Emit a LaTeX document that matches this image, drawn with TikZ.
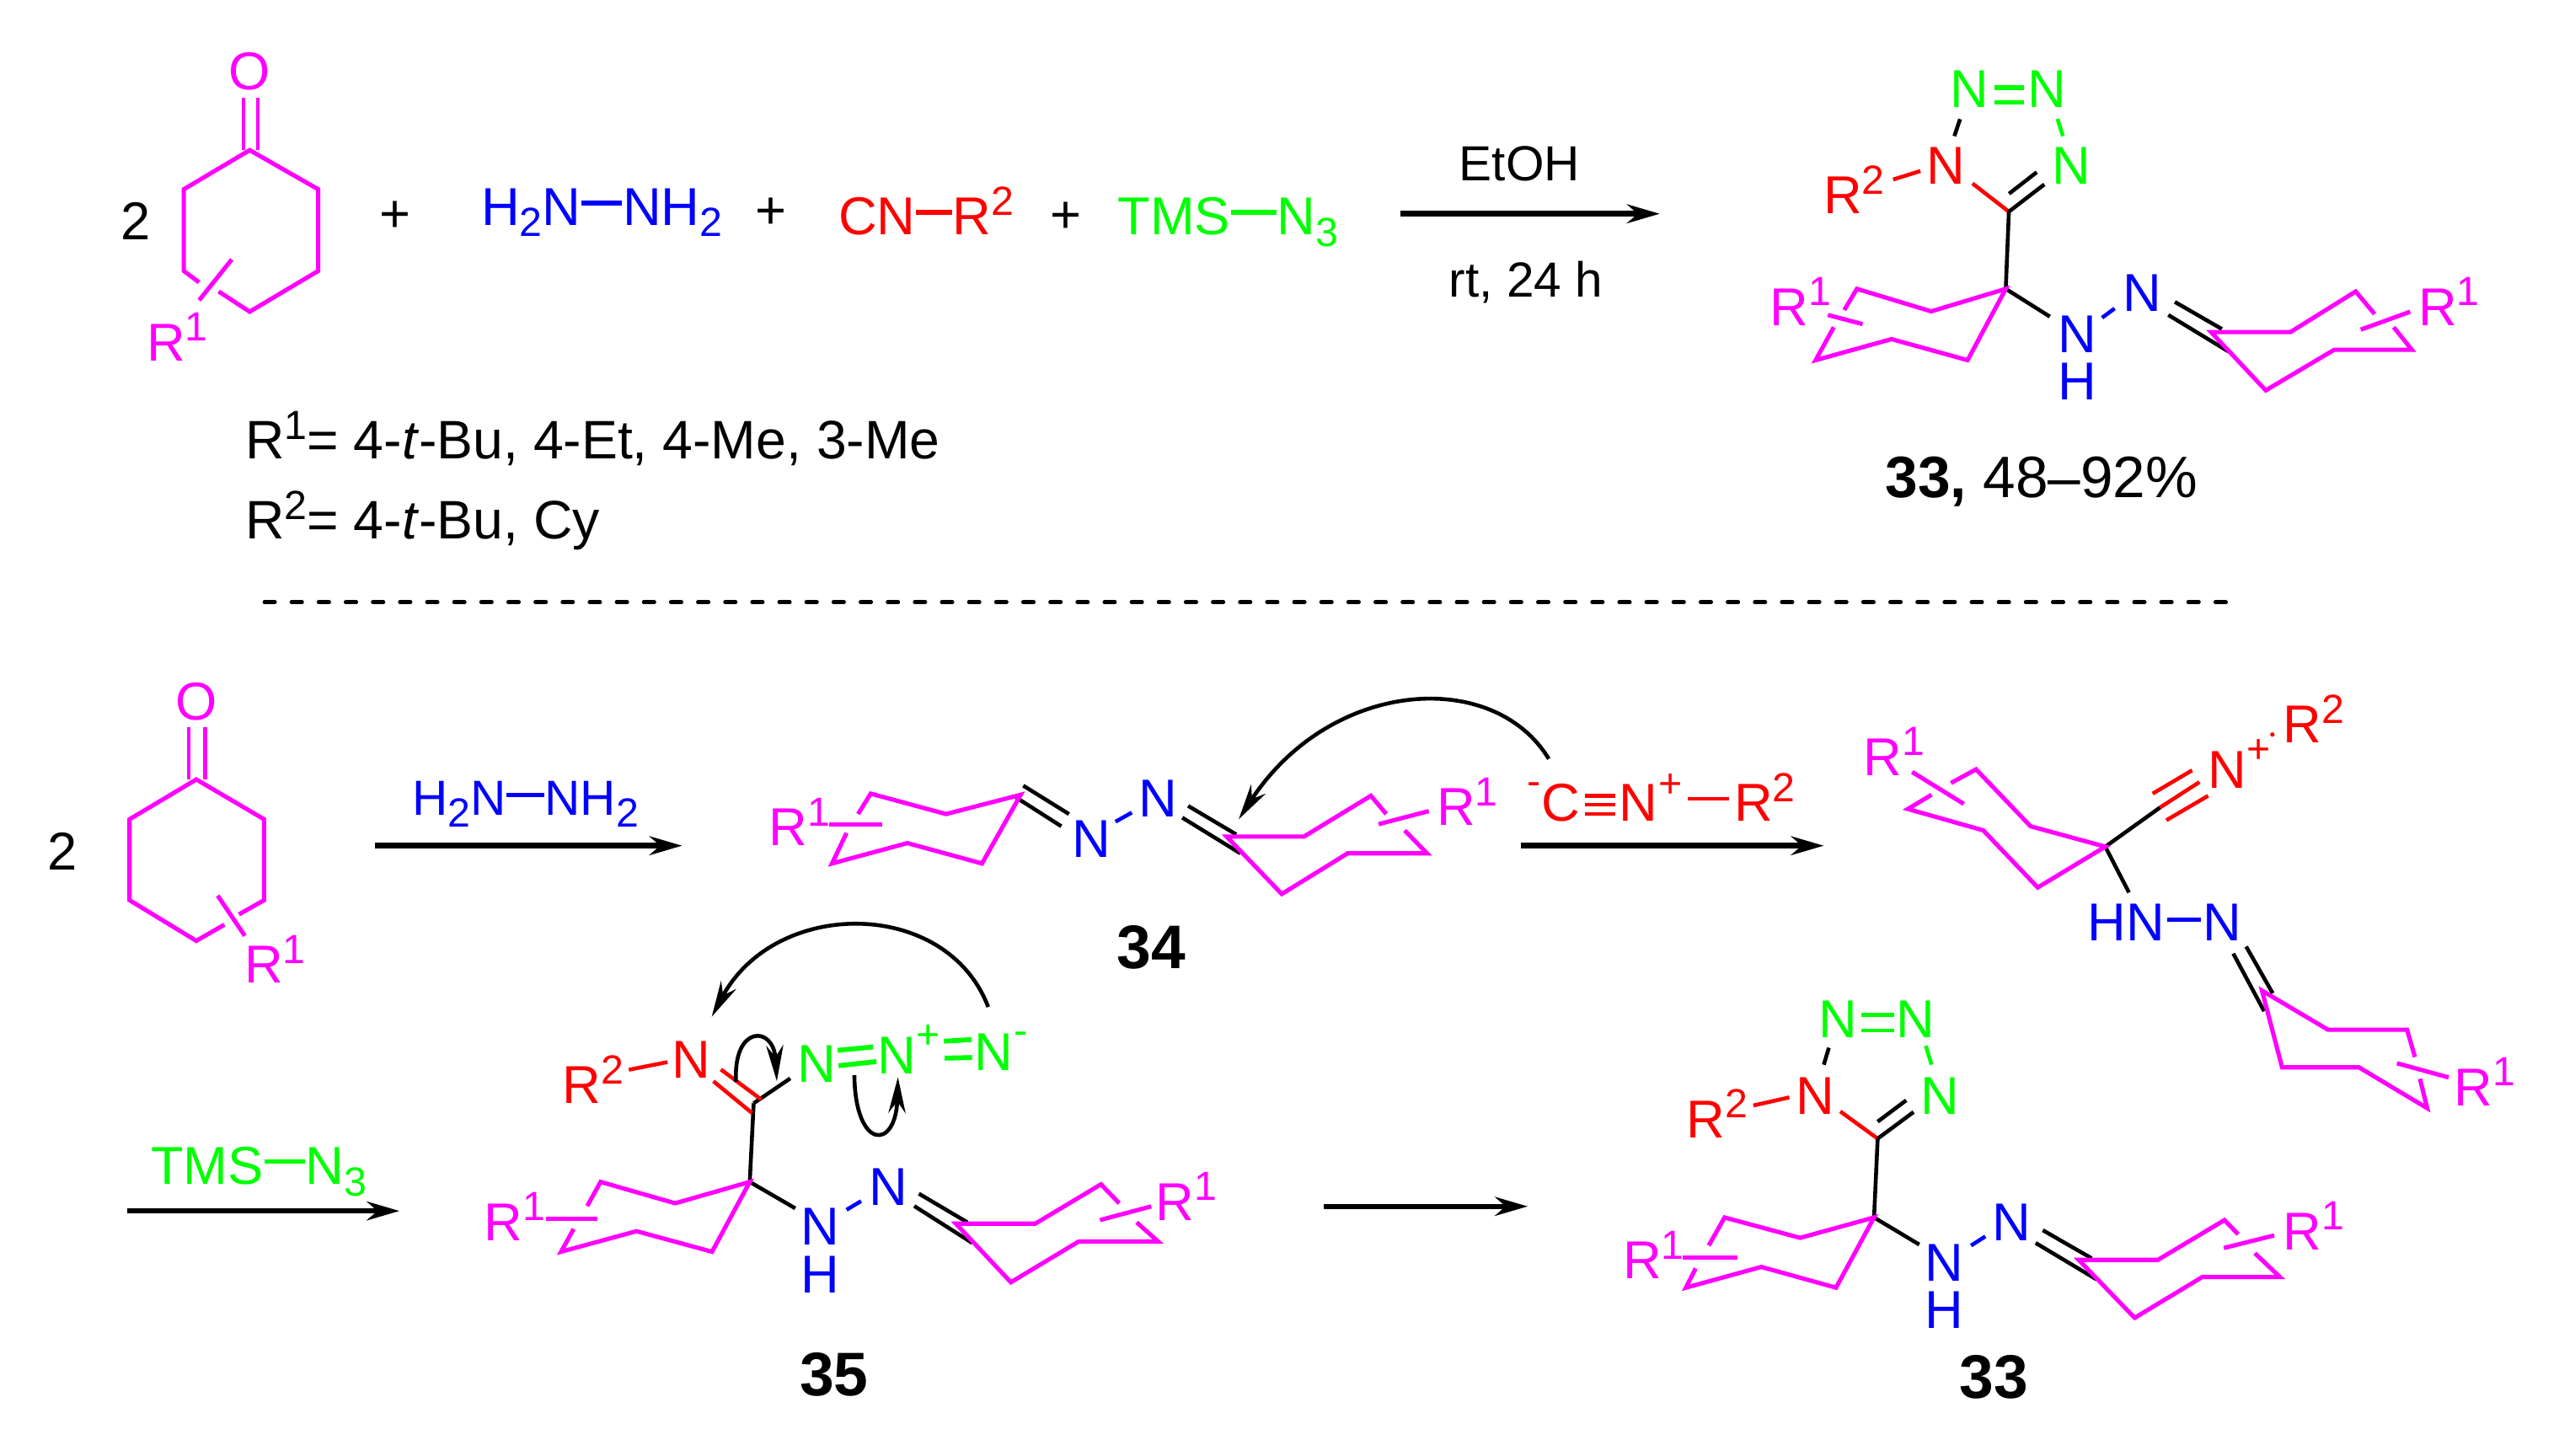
\documentclass[tikz,border=0pt]{standalone}
\usepackage{fontspec}
\setmainfont{Liberation Sans}
\usetikzlibrary{arrows.meta}
\definecolor{ringmag}{RGB}{255,0,255}
\definecolor{azred}{RGB}{255,0,0}
\definecolor{azgreen}{RGB}{0,255,0}
\definecolor{nblue}{RGB}{0,0,255}
\newcommand{\chemsize}{\fontsize{18.6}{23}\selectfont}
\newcommand{\labsize}{\fontsize{21.5}{26}\selectfont\bfseries}
\newcommand{\smallsize}{\fontsize{14.2}{16}\selectfont}
\newcommand{\upno}[1]{\raisebox{6.8pt}{\smallsize #1}}
\newcommand{\dnno}[1]{\raisebox{-4pt}{\smallsize #1}}
\tikzset{
  atom/.style={inner sep=0pt,anchor=base,font=\chemsize},
  lab/.style={inner sep=0pt,anchor=base west,font=\chemsize,xshift=-0.03cm},
  cpd/.style={inner sep=0pt,anchor=base,font=\labsize},
  chg/.style={inner sep=0pt,anchor=center,font=\smallsize},
  ring/.style={line width=1.5pt,ringmag,line join=miter},
  bond/.style={line width=1.35pt},
  fatbond/.style={line width=1.7pt},
  rxn/.style={line width=1.9pt,-{Stealth[length=4mm,width=2.3mm]}},
  curly/.style={line width=1.35pt,-{Stealth[length=4.4mm,width=2.1mm]}}
}
\begin{document}
\begin{tikzpicture}[x=0.02cm,y=-0.02cm]
  \useasboundingbox (0,0) rectangle (1568,892);
  % top line
  \node[atom,ringmag] (ko) at (153,55) {O};
  \node[atom] (k0) at (83,147) {2};
  \node[lab,ringmag] (kr) at (91,221) {R\upno{1}};
  \path
    (153,92) coordinate (k1) (195,116) coordinate (k2) (195,166) coordinate (k3)
    (153,191) coordinate (k4) (112.6,166) coordinate (k5) (112.6,116) coordinate (k6)
    (122,173) coordinate (k7) (134,178.6) coordinate (k8)
    (142,159) coordinate (k9) (122,184) coordinate (k10)
    (149,60) coordinate (k11) (149,92) coordinate (k12) (158,60) coordinate (k13) (158,92) coordinate (k14);
  \draw[ring] (k8) -- (k4) -- (k3) -- (k2) -- (k1) -- (k6) -- (k5) -- (k7);
  \draw[ring] (k9) -- (k10);
  \draw[ringmag,line width=1.2pt] (k11) -- (k12);
  \draw[ringmag,line width=1.2pt] (k13) -- (k14);
  \node[atom] (p1) at (242,142) {+};
  \node[lab,nblue] (h1) at (296,138) {H\dnno{2}N};
  \node[lab,nblue] (h2) at (382.7,138) {NH\dnno{2}};
  \draw[fatbond,nblue] (h1.east |- 0,124.4) -- (h2.west |- 0,124.4);
  \node[atom] (p2) at (472.6,140) {+};
  \node[lab,azred] (c1) at (515,144) {CN};
  \node[lab,azred] (c2) at (585,144) {R\upno{2}};
  \draw[fatbond,azred] (c1.east |- 0,130) -- (c2.west |- 0,130);
  \node[atom] (p3) at (653,143) {+};
  \node[lab,azgreen] (z1) at (686,144) {TMS};
  \node[lab,azgreen] (z2) at (783.5,144) {N\dnno{3}};
  \draw[fatbond,azgreen] (z1.east |- 0,130) -- (z2.west |- 0,130);
  \path (858,131) coordinate (a1) (1017,131) coordinate (a2);
  \draw[rxn] (a1) -- (a2);
  \node[atom,font=\fontsize{17.2}{22}\selectfont] (e1) at (931,110.6) {EtOH};
  \node[atom,font=\fontsize{17.2}{22}\selectfont] (e2) at (935,182) {rt, 24 h};
  \node[lab,font=\fontsize{18.9}{23}\selectfont] (r1) at (151.5,281) {R\upno{1}= 4-\textit{t}-Bu, 4-Et, 4-Me, 3-Me};
  \node[lab,font=\fontsize{18.9}{23}\selectfont] (r2) at (151.5,330) {R\upno{2}= 4-\textit{t}-Bu, Cy};
  % product 33 top
  \node[atom,azgreen] (tn1) at (1207,66) {N};
  \node[atom,azgreen] (tn2) at (1254,66) {N};
  \node[atom,azred] (tn3) at (1192.4,113) {N};
  \node[atom,azgreen] (tn4) at (1269,113) {N};
  \node[lab,azred] (tr2) at (1118.5,131) {R\upno{2}};
  \node[lab,ringmag] (tr1) at (1085.6,199.3) {R\upno{1}};
  \node[lab,ringmag] (tr3) at (1483,199.3) {R\upno{1}};
  \node[atom,nblue] (tn5) at (1272.9,216) {N};
  \node[atom,nblue] (th) at (1272.9,245) {H};
  \node[atom,nblue] (tn6) at (1312.4,191) {N};
  \path
    (1160,110) coordinate (t1) (1176.7,104.8) coordinate (t2)
    (1201,73) coordinate (t3) (1197.5,83.4) coordinate (t4)
    (1260.7,72.8) coordinate (t5) (1264,83.4) coordinate (t6)
    (1230.9,129.7) coordinate (tc) (1208.6,112.4) coordinate (t7)
    (1252.6,113) coordinate (t8) (1231,118.7) coordinate (t9) (1248,105.5) coordinate (t10)
    (1222,53.5) coordinate (t11) (1240,53.5) coordinate (t12)
    (1222,62.7) coordinate (t13) (1240,62.7) coordinate (t14)
    (1229,177) coordinate (tq) (1183.3,190.8) coordinate (t15) (1137.8,177) coordinate (t16)
    (1130,190) coordinate (t17) (1123.6,200.5) coordinate (t18) (1112.5,220.7) coordinate (t19)
    (1159,207.8) coordinate (t20) (1205.6,220.7) coordinate (t21)
    (1120,193) coordinate (t22) (1141.3,198.6) coordinate (t23)
    (1256,194) coordinate (t24) (1288,194.7) coordinate (t25) (1295.7,189) coordinate (t26)
    (1332.6,185) coordinate (t27) (1361.4,201.6) coordinate (t28)
    (1328.6,193) coordinate (t29) (1365.5,215.4) coordinate (t30)
    (1354.8,203.5) coordinate (t31) (1403.4,203.5) coordinate (t32) (1443.4,178.6) coordinate (t33)
    (1455,192.4) coordinate (t34) (1466.7,200.5) coordinate (t35) (1477.8,214.3) coordinate (t36)
    (1430.3,214.3) coordinate (t37) (1388.3,239.2) coordinate (t38)
    (1446.5,202) coordinate (t39) (1476.8,191) coordinate (t40);
  \draw[bond,azred] (t1) -- (t2);
  \draw[bond] (t3) -- (t4);
  \draw[bond,azgreen] (t5) -- (t6);
  \draw[bond,azred] (t7) -- (tc);
  \draw[bond] (tc) -- (t8);
  \draw[bond] (t9) -- (t10);
  \draw[fatbond,azgreen] (t11) -- (t12);
  \draw[fatbond,azgreen] (t13) -- (t14);
  \draw[bond] (tc) -- (tq);
  \draw[bond] (tq) -- (t24);
  \draw[bond,nblue] (t25) -- (t26);
  \draw[bond] (t27) -- (t28);
  \draw[bond] (t29) -- (t30);
  \draw[ring] (t17) -- (t16) -- (t15) -- (tq) -- (t21) -- (t20) -- (t19) -- (t18);
  \draw[ring] (t22) -- (t23);
  \draw[ring] (t34) -- (t33) -- (t32) -- (t31) -- (t38) -- (t37) -- (t36) -- (t35);
  \draw[ring] (t39) -- (t40);
  \node[inner sep=0pt,anchor=base west,font=\fontsize{20.4}{26}\selectfont] (ty) at (1155,305) {\textbf{33,} 48--92\%};
  % divider
  \path (162,369) coordinate (d1) (1374,369) coordinate (d2);
  \draw[line width=1.3pt,line cap=round,dash pattern=on 3.7pt off 5.75pt] (d1) -- (d2);
  % second ketone
  \node[atom,ringmag] (lo) at (120.3,441) {O};
  \node[atom] (l0) at (38,533) {2};
  \node[lab,ringmag] (lr) at (151,602.4) {R\upno{1}};
  \path
    (120.3,477.6) coordinate (l1) (161.8,502) coordinate (l2) (161.8,551.6) coordinate (l3)
    (120.3,576.5) coordinate (l4) (79.4,551.6) coordinate (l5) (79.4,502) coordinate (l6)
    (137.5,566.6) coordinate (l7) (146.4,560.3) coordinate (l8)
    (133.4,548.8) coordinate (l9) (150,573.4) coordinate (l10)
    (115.6,445.8) coordinate (l11) (115.6,477.6) coordinate (l12)
    (125.7,445.8) coordinate (l13) (125.7,477.6) coordinate (l14);
  \draw[ring] (l8) -- (l3) -- (l2) -- (l1) -- (l6) -- (l5) -- (l4) -- (l7);
  \draw[ring] (l9) -- (l10);
  \draw[ringmag,line width=1.2pt] (l11) -- (l12);
  \draw[ringmag,line width=1.2pt] (l13) -- (l14);
  \node[lab,nblue,font=\fontsize{17.2}{21}\selectfont] (g1) at (253.7,499.5) {H\dnno{2}N};
  \node[lab,nblue,font=\fontsize{17.2}{21}\selectfont] (g2) at (335,499.5) {NH\dnno{2}};
  \draw[bond,nblue] (g1.east |- 0,487) -- (g2.west |- 0,487);
  \path (230,518.2) coordinate (a3) (418,518.2) coordinate (a4);
  \draw[rxn] (a3) -- (a4);
  % 34
  \node[lab,ringmag] (mr1) at (472.4,518.2) {R\upno{1}};
  \node[lab,ringmag] (mr2) at (881.5,505.7) {R\upno{1}};
  \node[atom,nblue] (mn1) at (668.6,525.5) {N};
  \node[atom,nblue] (mn2) at (709.5,500.5) {N};
  \node[cpd] (m34) at (705.4,593.7) {34};
  \path
    (625.4,487) coordinate (mq) (579.7,498.8) coordinate (m1) (533.5,486.3) coordinate (m2)
    (525.8,498.8) coordinate (m3) (518.7,510.4) coordinate (m4) (509.8,529.1) coordinate (m5)
    (556,516.6) coordinate (m6) (601.7,529.1) coordinate (m7)
    (508,505) coordinate (m8) (540.6,505) coordinate (m9)
    (627,481.4) coordinate (m10) (655,498.8) coordinate (m11)
    (622.4,488.5) coordinate (m12) (650.3,506.3) coordinate (m13)
    (683.5,503.5) coordinate (m14) (693.5,497.9) coordinate (m15)
    (728,493.8) coordinate (m16) (757.5,511.3) coordinate (m17)
    (724.4,501) coordinate (m18) (760,522.9) coordinate (m19)
    (751.6,512.6) coordinate (m20) (799,512.6) coordinate (m21) (840,487.6) coordinate (m22)
    (849.4,498.8) coordinate (m23) (860.7,508.8) coordinate (m24) (874.4,522.9) coordinate (m25)
    (825.7,522.9) coordinate (m26) (785.4,547.8) coordinate (m27)
    (844.7,505) coordinate (m28) (875.5,497) coordinate (m29);
  \draw[bond] (m10) -- (m11);
  \draw[bond] (m12) -- (m13);
  \draw[bond,nblue] (m14) -- (m15);
  \draw[bond] (m16) -- (m17);
  \draw[bond] (m18) -- (m19);
  \draw[ring] (m3) -- (m2) -- (m1) -- (mq) -- (m7) -- (m6) -- (m5) -- (m4);
  \draw[ring] (m8) -- (m9);
  \draw[ring] (m23) -- (m22) -- (m21) -- (m20) -- (m27) -- (m26) -- (m25) -- (m24);
  \draw[ring] (m28) -- (m29);
  % isocyanide
  \node[chg,azred] (im) at (940,483.3) {-};
  \node[atom,azred] (ic) at (956.4,503) {C};
  \node[atom,azred] (in) at (1003.7,503) {N};
  \node[chg,azred] (ip) at (1023.7,481.4) {+};
  \node[lab,azred] (ir) at (1063.8,503) {R\upno{2}};
  \path
    (971.4,487.6) coordinate (i1) (989.8,487.6) coordinate (i2)
    (971.4,493) coordinate (i3) (989.8,493) coordinate (i4)
    (971.4,498.8) coordinate (i5) (989.8,498.8) coordinate (i6)
    (1033.9,489.5) coordinate (i7) (1059.4,489.5) coordinate (i8)
    (949,465) coordinate (i9) (759,502) coordinate (i10)
    (931.7,518.2) coordinate (a5) (1117.5,518.2) coordinate (a6);
  \draw[bond,azred] (i1) -- (i2);
  \draw[bond,azred] (i3) -- (i4);
  \draw[bond,azred] (i5) -- (i6);
  \draw[bond,azred] (i7) -- (i8);
  \draw[curly] (i9) .. controls (915,409) and (815,416) .. (i10);
  \draw[rxn] (a5) -- (a6);
  % nitrilium
  \node[lab,ringmag] (nr1) at (1143,475) {R\upno{1}};
  \node[atom,azred] (nn) at (1364.8,483) {N};
  \node[chg,azred] (np) at (1383.8,460.4) {+};
  \node[chg,azred] (nd) at (1392.6,451) {$\cdot$};
  \node[lab,azred] (nr2) at (1400,455) {R\upno{2}};
  \node[lab,nblue] (nh) at (1280.3,576.5) {HN};
  \node[atom,nblue] (nm) at (1361.8,576.5) {N};
  \node[lab,ringmag] (nr3) at (1504.8,677.4) {R\upno{1}};
  \path
    (1290,518.8) coordinate (nq) (1244.2,506.3) coordinate (n1) (1210.8,471.4) coordinate (n2)
    (1195.4,479.8) coordinate (n3) (1183.5,487) coordinate (n4) (1169,495.7) coordinate (n5)
    (1215.2,508.8) coordinate (n6) (1248.6,543.8) coordinate (n7)
    (1171.6,473) coordinate (n8) (1203.3,492.6) coordinate (n9)
    (1323.5,494.8) coordinate (n10)
    (1319,486.3) coordinate (n11) (1343.2,472) coordinate (n12)
    (1347.7,479.2) coordinate (n13)
    (1327.4,502.6) coordinate (n14) (1353,487.6) coordinate (n15)
    (1304.5,546.9) coordinate (n16)
    (1327.9,563.4) coordinate (n17) (1348.6,563.4) coordinate (n18)
    (1376.3,580) coordinate (n19) (1392.6,608.7) coordinate (n20)
    (1368.4,584.3) coordinate (n21) (1387.3,619.6) coordinate (n22)
    (1386,607) coordinate (n23) (1426.5,631) coordinate (n24) (1474.9,631) coordinate (n25)
    (1479.7,647.7) coordinate (n26) (1482.8,661) coordinate (n27) (1487.2,679) coordinate (n28)
    (1445.4,654) coordinate (n29) (1398.3,654) coordinate (n30)
    (1468.7,651.5) coordinate (n31) (1500.4,660.2) coordinate (n32);
  \draw[bond] (nq) -- (n10);
  \draw[bond,azred] (n11) -- (n12);
  \draw[bond,azred] (n10) -- (n13);
  \draw[bond,azred] (n14) -- (n15);
  \draw[bond] (nq) -- (n16);
  \draw[bond,nblue] (n17) -- (n18);
  \draw[bond] (n19) -- (n20);
  \draw[bond] (n21) -- (n22);
  \draw[ring] (n3) -- (n2) -- (n1) -- (nq) -- (n7) -- (n6) -- (n5) -- (n4);
  \draw[ring] (n8) -- (n9);
  \draw[ring] (n26) -- (n25) -- (n24) -- (n23) -- (n30) -- (n29) -- (n28) -- (n27);
  \draw[ring] (n31) -- (n32);
  % 35
  \node[lab,azgreen] (w1) at (93.7,725.7) {TMS};
  \node[lab,azgreen] (w2) at (188.5,725.7) {N\dnno{3}};
  \draw[bond,azgreen] (w1.east |- 0,711.7) -- (w2.west |- 0,711.7);
  \path (78.2,742) coordinate (a7) (244.8,742) coordinate (a8);
  \draw[rxn] (a7) -- (a8);
  \node[lab,azred] (sr2) at (345.7,676) {R\upno{2}};
  \node[atom,azred] (sn1) at (423.3,660.5) {N};
  \node[atom,azgreen] (sa1) at (500.4,663.4) {N};
  \node[atom,azgreen] (sa2) at (549.4,658.2) {N};
  \node[chg,azgreen] (sap) at (568.5,635.5) {+};
  \node[atom,azgreen] (sa3) at (609,656) {N};
  \node[chg,azgreen] (sam) at (625.4,636) {-};
  \node[lab,ringmag] (sr1) at (298,760) {R\upno{1}};
  \node[lab,ringmag] (sr3) at (709.5,747.6) {R\upno{1}};
  \node[atom,nblue] (sn2) at (502.7,763) {N};
  \node[atom,nblue] (sh) at (502.7,792) {H};
  \node[atom,nblue] (sn3) at (544.2,738.8) {N};
  \node[cpd] (s35) at (511,855.3) {35};
  \path
    (385.3,655.5) coordinate (s1) (409,650.8) coordinate (s2)
    (441.7,655.3) coordinate (s3) (466.4,673.7) coordinate (s4)
    (437.1,662.5) coordinate (s5) (460.8,682) coordinate (s6)
    (461.8,676) coordinate (sc) (484.2,660.8) coordinate (s7)
    (459.4,724.2) coordinate (sq)
    (513.2,643.6) coordinate (s8) (535,641.5) coordinate (s9)
    (513.8,653) coordinate (s10) (537,650.5) coordinate (s11)
    (578.4,638) coordinate (s12) (595.2,637) coordinate (s13)
    (578.8,648.4) coordinate (s14) (595.6,648) coordinate (s15)
    (451,662.9) coordinate (s16) (476,662.5) coordinate (s17)
    (523.5,658.8) coordinate (s18) (550.2,660) coordinate (s19)
    (605.5,617) coordinate (s20) (436.1,623) coordinate (s21)
    (413.7,737.3) coordinate (s22) (368,724.2) coordinate (s23)
    (359.8,739) coordinate (s24) (351.5,753) coordinate (s25) (343.8,767) coordinate (s26)
    (390,754.4) coordinate (s27) (436.3,767) coordinate (s28)
    (334.3,747) coordinate (s29) (366.3,747) coordinate (s30)
    (487.3,740.4) coordinate (s31) (518.7,741.3) coordinate (s32) (527.6,736) coordinate (s33)
    (563,731.4) coordinate (s34) (592.8,749) coordinate (s35)
    (560.2,739) coordinate (s36) (595.7,761.6) coordinate (s37)
    (585.7,749.8) coordinate (s38) (634.3,749.8) coordinate (s39) (674.6,725.7) coordinate (s40)
    (685.8,737.3) coordinate (s41) (696.5,749) coordinate (s42) (709.6,760.7) coordinate (s43)
    (661,760.7) coordinate (s44) (619.4,785.7) coordinate (s45)
    (674,747.6) coordinate (s46) (705.4,739.2) coordinate (s47)
    (810.9,739.2) coordinate (a9) (936.1,739.2) coordinate (a10);
  \draw[bond,azred] (s1) -- (s2);
  \draw[bond] (sc) -- (s7);
  \draw[bond] (sc) -- (sq);
  \draw[bond,azred] (s3) -- (s4);
  \draw[bond,azred] (s5) -- (s6);
  \draw[fatbond,azgreen] (s8) -- (s9);
  \draw[fatbond,azgreen] (s10) -- (s11);
  \draw[fatbond,azgreen] (s12) -- (s13);
  \draw[fatbond,azgreen] (s14) -- (s15);
  \draw[curly] (s16) .. controls (449,628) and (474,628) .. (s17);
  \draw[curly] (s18) .. controls (524,705) and (549,705) .. (s19);
  \draw[curly] (s20) .. controls (580,550) and (475,550) .. (s21);
  \draw[bond] (sq) -- (s31);
  \draw[bond,nblue] (s32) -- (s33);
  \draw[bond] (s34) -- (s35);
  \draw[bond] (s36) -- (s37);
  \draw[ring] (s24) -- (s23) -- (s22) -- (sq) -- (s28) -- (s27) -- (s26) -- (s25);
  \draw[ring] (s29) -- (s30);
  \draw[ring] (s41) -- (s40) -- (s39) -- (s38) -- (s45) -- (s44) -- (s43) -- (s42);
  \draw[ring] (s46) -- (s47);
  \draw[rxn] (a9) -- (a10);
  % product 33 bottom
  \node[atom,azgreen] (bn1) at (1126.3,635.8) {N};
  \node[atom,azgreen] (bn2) at (1173.8,635.8) {N};
  \node[atom,azred] (bn3) at (1112.2,682.7) {N};
  \node[atom,azgreen] (bn4) at (1188.8,682.7) {N};
  \node[lab,azred] (br2) at (1034.7,697) {R\upno{2}};
  \node[lab,ringmag] (br1) at (995.6,783.5) {R\upno{1}};
  \node[lab,ringmag] (br3) at (1400,765.7) {R\upno{1}};
  \node[atom,nblue] (bn5) at (1191.4,785) {N};
  \node[atom,nblue] (bh) at (1191.4,814) {H};
  \node[atom,nblue] (bn6) at (1232.8,760) {N};
  \node[cpd] (b33) at (1221.8,857) {33};
  \path
    (1074.3,677.4) coordinate (b1) (1096.4,672.4) coordinate (b2)
    (1120.6,642) coordinate (b3) (1117.5,652.4) coordinate (b4)
    (1180,640.8) coordinate (b5) (1183.5,652.4) coordinate (b6)
    (1140.4,621.8) coordinate (b7) (1160.6,621.8) coordinate (b8)
    (1140.4,631.5) coordinate (b9) (1160.6,631.5) coordinate (b10)
    (1150.5,697.7) coordinate (bc) (1127.6,681) coordinate (b11)
    (1172.5,681.4) coordinate (b12) (1150.5,687.3) coordinate (b13) (1168,674.2) coordinate (b14)
    (1148.3,746) coordinate (bq) (1103,758.5) coordinate (b15) (1056.7,746) coordinate (b16)
    (1047,763.2) coordinate (b17) (1039,777.2) coordinate (b18) (1033,789) coordinate (b19)
    (1079.2,776.3) coordinate (b20) (1125,789) coordinate (b21)
    (1030.8,770.4) coordinate (b22) (1064.7,770.4) coordinate (b23)
    (1176,762.6) coordinate (b24) (1207.7,763.2) coordinate (b25) (1216.5,757.6) coordinate (b26)
    (1251.7,753.8) coordinate (b27) (1281.6,771) coordinate (b28)
    (1247.3,761.6) coordinate (b29) (1284.7,784) coordinate (b30)
    (1273.7,772) coordinate (b31) (1322.2,772) coordinate (b32) (1363,747.6) coordinate (b33a)
    (1371.4,756.3) coordinate (b34) (1381.6,767.9) coordinate (b35) (1397,782.5) coordinate (b36)
    (1349.4,782.5) coordinate (b37) (1308,807.5) coordinate (b38)
    (1362.6,764.7) coordinate (b39) (1393.5,757) coordinate (b40);
  \draw[bond,azred] (b1) -- (b2);
  \draw[bond] (b3) -- (b4);
  \draw[bond,azgreen] (b5) -- (b6);
  \draw[bond,azgreen] (b7) -- (b8);
  \draw[bond,azgreen] (b9) -- (b10);
  \draw[bond,azred] (b11) -- (bc);
  \draw[bond] (bc) -- (b12);
  \draw[bond] (b13) -- (b14);
  \draw[bond] (bc) -- (bq);
  \draw[bond] (bq) -- (b24);
  \draw[bond,nblue] (b25) -- (b26);
  \draw[bond] (b27) -- (b28);
  \draw[bond] (b29) -- (b30);
  \draw[ring] (b17) -- (b16) -- (b15) -- (bq) -- (b21) -- (b20) -- (b19) -- (b18);
  \draw[ring] (b22) -- (b23);
  \draw[ring] (b34) -- (b33a) -- (b32) -- (b31) -- (b38) -- (b37) -- (b36) -- (b35);
  \draw[ring] (b39) -- (b40);
\end{tikzpicture}
\end{document}
